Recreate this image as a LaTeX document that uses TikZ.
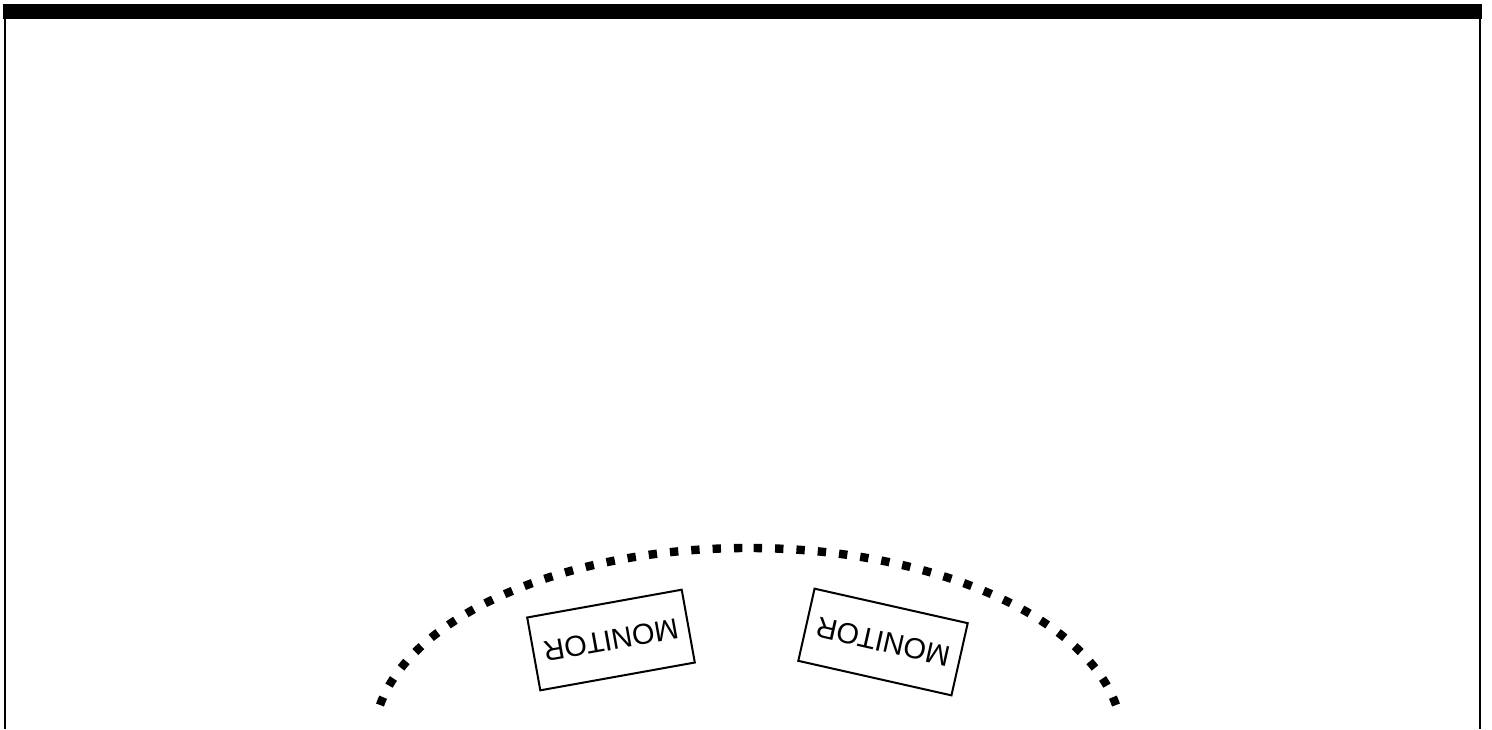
\documentclass[tikz,border=0pt]{standalone}
\usepackage{fontspec}
\setmainfont{Liberation Sans}
\usepackage{tikz}
\usetikzlibrary{positioning,calc}
\definecolor{ink}{HTML}{000000}

\begin{document}
\begin{tikzpicture}[
  x=0.5pt, y=-0.5pt,
  monitor/.style={draw=ink, line width=1pt, minimum width=78.5pt, minimum height=37pt, inner sep=0pt, font=\fontsize{14.5}{17}\selectfont},
  wall/.style={draw=ink, line width=1pt},
  ring/.style={draw=ink, line width=4.2pt, dash pattern=on 4.2pt off 6.5pt}
]
\useasboundingbox (0,0) rectangle (1492,729);
\fill[ink] (3,4) rectangle (1482,19);
\draw[wall] (5,19) -- (5,729);
\draw[wall] (1480,19) -- (1480,729);
% dotted ring, drawn from both ends up to the top
\coordinate (ringL) at (380,705);
\coordinate (ringR) at (1116,705);
\draw[ring] (ringL) arc[start angle=-169.5, end angle=-90, x radius=374.3, y radius=192];
\draw[ring] (ringR) arc[start angle=-10.5, end angle=-90, x radius=374.3, y radius=192];
\node[monitor, rotate=190.2] (monL) at (611,640) {MONITOR};
\node[monitor, rotate=167.3] (monR) at (883,642) {MONITOR};
\end{tikzpicture}
\end{document}
